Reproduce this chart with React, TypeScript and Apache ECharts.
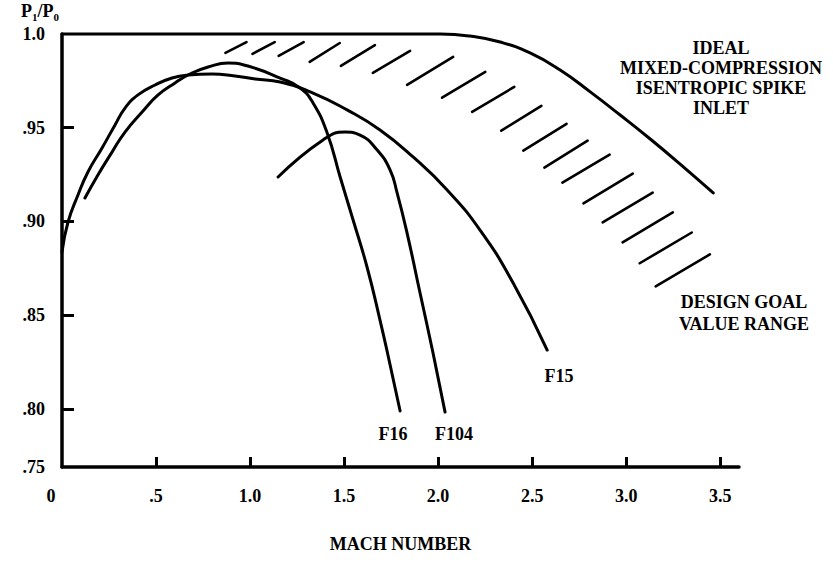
import React, { useEffect, useRef } from 'react';
import * as echarts from 'echarts';

// ---- data ----
const xIdeal = [0, 1.0, 2.011, 2.17, 2.33, 2.489, 2.649, 2.809, 2.968, 3.128, 3.287, 3.463];
const yIdeal = [1.0, 1.0, 1.0, 0.9989, 0.9957, 0.9899, 0.9808, 0.9691, 0.9568, 0.944, 0.9306, 0.9152];

const xF15 = [0, 0.032, 0.085, 0.138, 0.213, 0.282, 0.335, 0.404, 0.495, 0.585, 0.67, 0.798, 0.92, 1.027, 1.16, 1.335, 1.516, 1.691, 1.867, 2.048, 2.223, 2.399, 2.58];
const yF15 = [0.8837, 0.8997, 0.9141, 0.9264, 0.9392, 0.9515, 0.9605, 0.9675, 0.9728, 0.9765, 0.9781, 0.9787, 0.9776, 0.976, 0.9744, 0.9685, 0.9595, 0.9488, 0.9344, 0.9168, 0.8954, 0.8672, 0.8314];

const xF16 = [0.122, 0.191, 0.266, 0.335, 0.426, 0.511, 0.601, 0.691, 0.777, 0.883, 0.989, 1.16, 1.266, 1.335, 1.41, 1.479, 1.548, 1.622, 1.691, 1.739, 1.798];
const yF16 = [0.9125, 0.9248, 0.937, 0.9477, 0.9584, 0.9675, 0.9739, 0.9792, 0.9824, 0.9845, 0.9829, 0.9765, 0.9712, 0.9632, 0.9472, 0.9237, 0.9008, 0.8757, 0.8474, 0.8261, 0.7989];

const xF104 = [1.149, 1.388, 1.505, 1.585, 1.676, 1.745, 1.782, 1.835, 1.904, 1.973, 2.037];
const yF104 = [0.9237, 0.9435, 0.9477, 0.9461, 0.9381, 0.9274, 0.9152, 0.8938, 0.8618, 0.8298, 0.7983];

// design-goal hatch dashes: start and end points [mach, p1/p0]
const hatchStart = [
  [0.869, 0.9899], [1.013, 0.9894], [1.152, 0.9883], [1.317, 0.9851], [1.483, 0.983], [1.653, 0.9793],
  [1.835, 0.9729], [2.021, 0.966], [2.181, 0.9585], [2.336, 0.9484], [2.453, 0.9378], [2.565, 0.9287],
  [2.661, 0.9207], [2.773, 0.9096], [2.875, 0.8995], [2.981, 0.8888], [3.072, 0.8777], [3.157, 0.8654],
];
const hatchEnd = [
  [0.981, 0.9957], [1.131, 0.9957], [1.285, 0.9957], [1.477, 0.9952], [1.664, 0.9941], [1.851, 0.991],
  [2.08, 0.9878], [2.251, 0.9798], [2.405, 0.9718], [2.549, 0.9617], [2.683, 0.9521], [2.795, 0.9431],
  [2.912, 0.9356], [3.035, 0.9255], [3.141, 0.9154], [3.248, 0.9048], [3.349, 0.8941], [3.445, 0.8824],
];

const xLabelValues = [0, 0.5, 1.0, 1.5, 2.0, 2.5, 3.0, 3.5];
const xLabelTexts = ['0', '.5', '1.0', '1.5', '2.0', '2.5', '3.0', '3.5'];
const xTickValues = [0.5, 1.0, 1.5, 2.0, 2.5, 3.0, 3.5];

const Y_MIN = 0.769; // bottom of the drawn axis (labelled .75 in the original)
const yLabelValues = [Y_MIN, 0.8, 0.85, 0.9, 0.95, 1.0];
const yLabelTexts = ['.75', '.80', '.85', '.90', '.95', '1.0'];
const yTickValues = [0.8, 0.85, 0.9, 0.95];

const FONT = '"Liberation Serif", "Times New Roman", serif';

const zip = (xs: number[], ys: number[]) => xs.map((x, i) => [x, ys[i]]);

const lineSeries = (name: string, xs: number[], ys: number[]) => ({
  name,
  type: 'line',
  data: zip(xs, ys),
  smooth: 0.5,
  showSymbol: false,
  symbol: 'none',
  lineStyle: { color: '#000', width: 3, cap: 'round', join: 'round' },
  silent: true,
  clip: false,
});

export default function App() {
  const ref = useRef<HTMLDivElement>(null);
  useEffect(() => {
    const chart = echarts.init(ref.current!, null, { renderer: 'svg' });
    const textStyle = (size: number) => ({ fontFamily: FONT, fontWeight: 'bold', fontSize: size, fill: '#000' });
    chart.setOption({
      animation: false,
      backgroundColor: '#fff',
      grid: { left: 62, top: 34, width: 677, height: 433, containLabel: false },
      xAxis: {
        type: 'value',
        min: 0,
        max: 3.6,
        name: 'MACH NUMBER',
        nameLocation: 'middle',
        nameGap: 68,
        nameTextStyle: { fontFamily: FONT, fontWeight: 'bold', fontSize: 18, color: '#000' },
        axisLine: { show: true, lineStyle: { color: '#000', width: 3.5 } },
        axisTick: { show: true, inside: true, length: 10, customValues: xTickValues, lineStyle: { color: '#000', width: 3 } },
        axisLabel: {
          customValues: xLabelValues,
          margin: 20,
          fontFamily: FONT,
          fontWeight: 'bold',
          fontSize: 18,
          color: '#000',
          formatter: (v: number) => {
            const i = xLabelValues.findIndex((x) => Math.abs(x - v) < 1e-6);
            if (i < 0) return '';
            return i === 0 ? '{z|' + xLabelTexts[i] + '}' : xLabelTexts[i];
          },
          rich: { z: { fontFamily: FONT, fontWeight: 'bold', fontSize: 18, color: '#000', padding: [0, 22, 0, 0] } },
        },
        splitLine: { show: false },
      },
      yAxis: {
        type: 'value',
        min: Y_MIN,
        max: 1.0,
        axisLine: { show: true, lineStyle: { color: '#000', width: 3.5 } },
        axisTick: { show: true, inside: true, length: 12, customValues: yTickValues, lineStyle: { color: '#000', width: 3 } },
        axisLabel: {
          customValues: yLabelValues,
          margin: 17,
          fontFamily: FONT,
          fontWeight: 'bold',
          fontSize: 18,
          color: '#000',
          formatter: (v: number) => {
            const i = yLabelValues.findIndex((y) => Math.abs(y - v) < 1e-6);
            return i < 0 ? '' : yLabelTexts[i];
          },
        },
        splitLine: { show: false },
      },
      series: [
        lineSeries('IDEAL', xIdeal, yIdeal),
        lineSeries('F15', xF15, yF15),
        lineSeries('F16', xF16, yF16),
        lineSeries('F104', xF104, yF104),
        {
          name: 'DESIGN GOAL',
          type: 'custom',
          silent: true,
          data: hatchStart.map((s, i) => [s[0], s[1], hatchEnd[i][0], hatchEnd[i][1]]),
          encode: { x: [0, 2], y: [1, 3] },
          renderItem: (_params: any, api: any) => {
            const p1 = api.coord([api.value(0), api.value(1)]);
            const p2 = api.coord([api.value(2), api.value(3)]);
            return {
              type: 'line',
              shape: { x1: p1[0], y1: p1[1], x2: p2[0], y2: p2[1] },
              style: { stroke: '#000', lineWidth: 2.6, lineCap: 'round' },
            };
          },
        },
      ],
      graphic: [
        {
          type: 'text',
          left: 21,
          top: 2,
          style: {
            text: '{p|P}{s|1}{p|/P}{s|0}',
            rich: {
              p: { fontFamily: FONT, fontWeight: 'bold', fontSize: 18, lineHeight: 22, fill: '#000' },
              s: { fontFamily: FONT, fontWeight: 'bold', fontSize: 11, lineHeight: 12, verticalAlign: 'bottom', fill: '#000' },
            },
          },
        },
        {
          type: 'text',
          x: 721,
          y: 38,
          style: {
            ...textStyle(18),
            text: 'IDEAL\nMIXED-COMPRESSION\nISENTROPIC SPIKE\nINLET',
            textAlign: 'center',
            textVerticalAlign: 'top',
            lineHeight: 20,
          },
        },
        {
          type: 'text',
          x: 744,
          y: 291,
          style: {
            ...textStyle(18),
            text: 'DESIGN GOAL\nVALUE RANGE',
            textAlign: 'center',
            textVerticalAlign: 'top',
            lineHeight: 22,
          },
        },
        { type: 'text', x: 559, y: 376, style: { ...textStyle(18), text: 'F15', textAlign: 'center', textVerticalAlign: 'middle' } },
        { type: 'text', x: 393, y: 434, style: { ...textStyle(18), text: 'F16', textAlign: 'center', textVerticalAlign: 'middle' } },
        { type: 'text', x: 454, y: 434, style: { ...textStyle(18), text: 'F104', textAlign: 'center', textVerticalAlign: 'middle' } },
      ],
    });
    return () => chart.dispose();
  }, []);
  return (
    <div
      ref={ref}
      style={{ position: 'fixed', left: 0, top: 0, width: 833, height: 570, background: '#fff' }}
    />
  );
}
